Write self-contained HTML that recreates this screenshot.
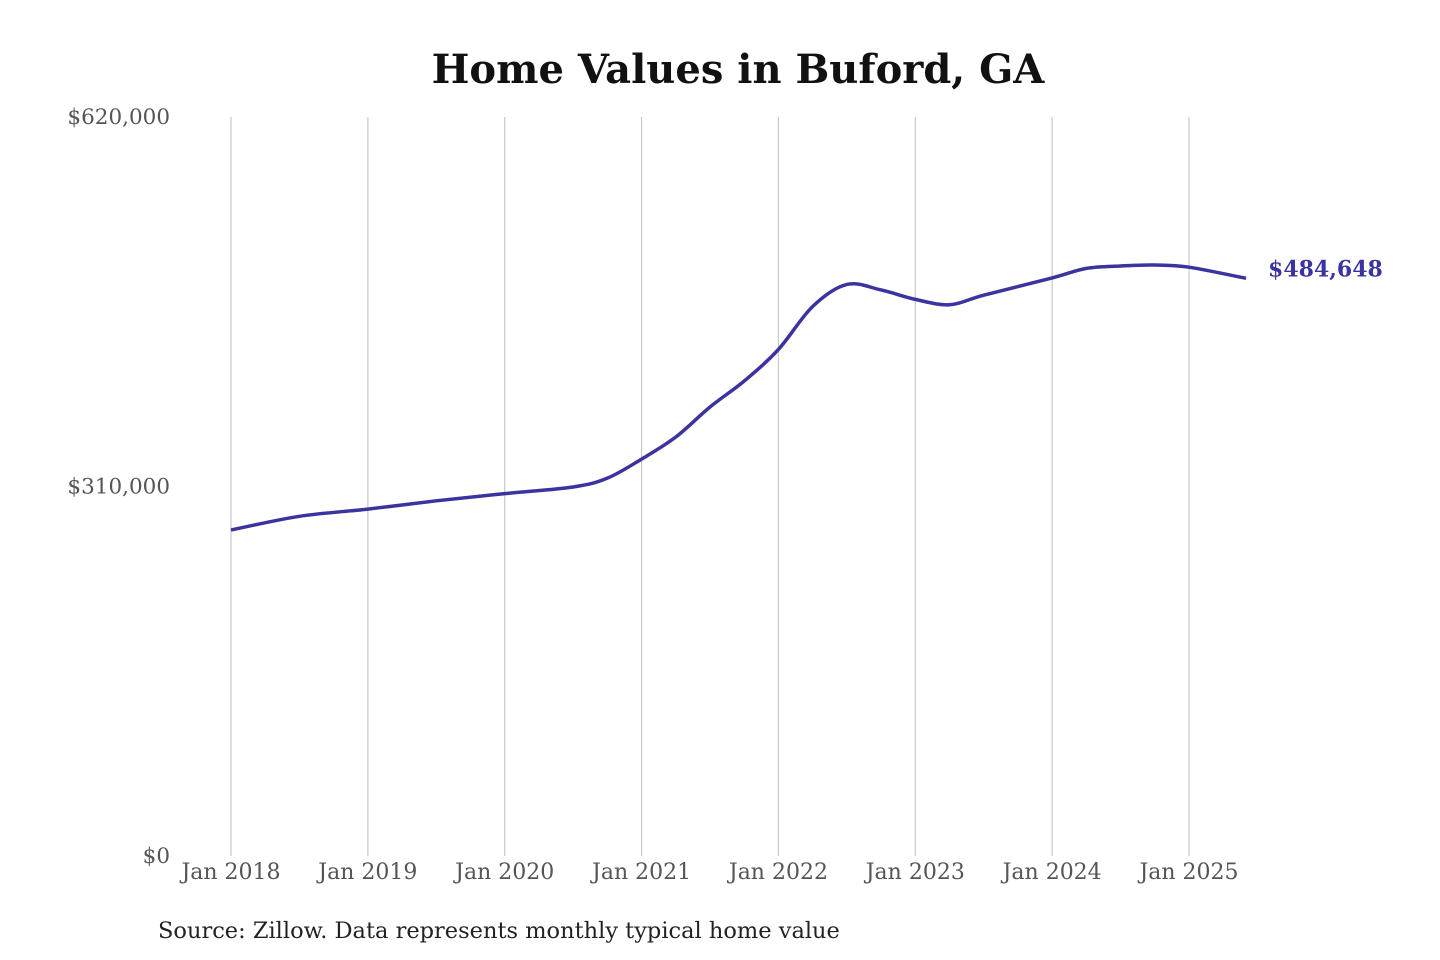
<!DOCTYPE html>
<html><head><meta charset="utf-8">
<style>
body{margin:0;background:#fff;}
svg{display:block;}
text{font-family:"DejaVu Serif","Liberation Serif",serif;}
</style></head>
<body>
<svg id="chart" width="1440" height="960">
<text x="738" y="83" text-anchor="middle" font-size="40" font-weight="bold" fill="#111">Home Values in Buford, GA</text>
<g id="grid"></g><g id="yaxis"></g><g id="xaxis"></g>
<path id="line" fill="none" stroke="#3a33a0" stroke-width="3.5"></path>
<text id="endlabel" font-size="22" font-weight="bold" fill="#3a33a0"></text>
<text x="158" y="938" font-size="22.5" fill="#222">Source: Zillow. Data represents monthly typical home value</text>
</svg>
<script>
const yearTicks=["Jan 2018","Jan 2019","Jan 2020","Jan 2021","Jan 2022","Jan 2023","Jan 2024","Jan 2025"];
const yTickValues=[0,310000,620000];
const yTickLabels=["$0","$310,000","$620,000"];
// months since Jan 2018
const months=[0,6,12,18,24,30,33,36,39,42,45,48,51,54,57,60,63,66,72,75,78,81,84,89];
const values=[273500,285000,291000,298000,304000,309600,317000,333000,351500,376700,398500,425000,461000,479500,474900,467000,462500,470500,485000,493000,495000,495800,494000,484648];
const endLabel="$484,648";
const ns="http://www.w3.org/2000/svg";
const x=m=>231+m*(1189-231)/84;
const y=v=>856-v*(856-117)/620000;
function mk(tag,attrs,parent,txt){const e=document.createElementNS(ns,tag);for(const k in attrs)e.setAttribute(k,attrs[k]);if(txt!==undefined)e.textContent=txt;parent.appendChild(e);return e;}
const grid=document.getElementById('grid'),xa=document.getElementById('xaxis'),ya=document.getElementById('yaxis');
yearTicks.forEach((t,i)=>{
  const gl=mk('line',{x1:x(i*12),x2:x(i*12),y1:117,y2:856,stroke:'#c8c8c8','stroke-width':1.2},grid);
  
  
  const tl=mk('text',{x:x(i*12),y:879,'text-anchor':'middle','font-size':22,fill:'#555'},xa,t);
  
  
});
yTickValues.forEach((v,i)=>{
  const tl=mk('text',{x:170,y:y(v)+7,'text-anchor':'end','font-size':21.5,fill:'#555'},ya,yTickLabels[i]);
  
  
});
const P=months.map((m,i)=>[x(m),y(values[i])]);
let d='M'+P[0][0]+','+P[0][1];
for(let i=0;i<P.length-1;i++){
  const p0=P[Math.max(0,i-1)],p1=P[i],p2=P[i+1],p3=P[Math.min(P.length-1,i+2)];
  const c1=[p1[0]+(p2[0]-p0[0])/6,p1[1]+(p2[1]-p0[1])/6];
  const c2=[p2[0]-(p3[0]-p1[0])/6,p2[1]-(p3[1]-p1[1])/6];
  d+=` C${c1[0]},${c1[1]} ${c2[0]},${c2[1]} ${p2[0]},${p2[1]}`;
}
document.getElementById('line').setAttribute('d',d);
const el=document.getElementById('endlabel');
const last=P[P.length-1];
el.setAttribute('x',last[0]+22);el.setAttribute('y',last[1]-2);el.textContent=endLabel;
</script>
</body></html>
